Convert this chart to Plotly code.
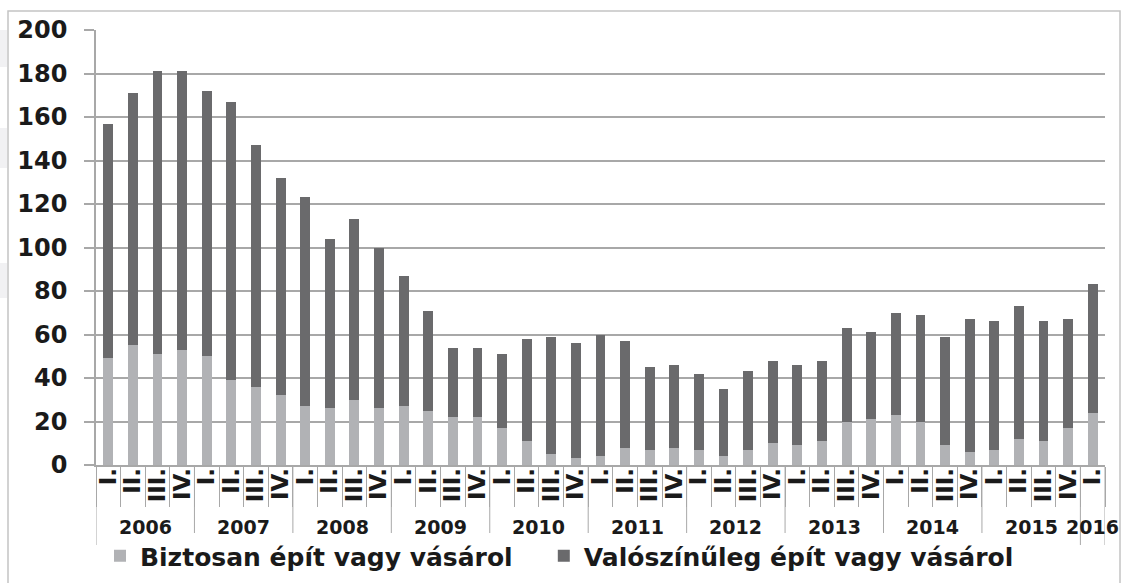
import plotly.graph_objects as go

years = ["2006"] * 4 + ["2007"] * 4 + ["2008"] * 4 + ["2009"] * 4 + ["2010"] * 4 + \
        ["2011"] * 4 + ["2012"] * 4 + ["2013"] * 4 + ["2014"] * 4 + ["2015"] * 4 + ["2016"]
quarters = ["I.", "II.", "III.", "IV."] * 10 + ["I."]

biztosan = [49, 55, 51, 53, 50, 39, 36, 32, 27, 26, 30, 26, 27, 25, 22, 22,
            17, 11, 5, 3, 4, 8, 7, 8, 7, 4, 7, 10, 9, 11, 20, 21,
            23, 20, 9, 6, 7, 12, 11, 17, 24]
valoszinuleg = [108, 116, 130, 128, 122, 128, 111, 100, 96, 78, 83, 74, 60, 46, 32, 32,
                34, 47, 54, 53, 56, 49, 38, 38, 35, 31, 36, 38, 37, 37, 43, 40,
                47, 49, 50, 61, 59, 61, 55, 50, 59]

series_names = ["Biztosan épít vagy vásárol", "Valószínűleg épít vagy vásárol"]
y_ticks = list(range(0, 201, 20))

FONT = "DejaVu Sans"
LIGHT = "#b1b2b5"
DARK = "#6a6a6c"
GRID = "#a8a8a8"
TXT = "#1a1a1a"

keys = [f"{y} {q}" for y, q in zip(years, quarters)]

fig = go.Figure()
fig.add_trace(go.Bar(x=keys, y=biztosan, name=series_names[0] + "\u00a0\u00a0\u00a0",
                     marker=dict(color=LIGHT, line=dict(width=0))))
fig.add_trace(go.Bar(x=keys, y=valoszinuleg, name=series_names[1],
                     marker=dict(color=DARK, line=dict(width=0))))

W, H = 1121, 583
L, R, T, B = 96, 16, 30, 118
pw, ph = W - L - R, H - T - B

def px_x(p):
    return (p - L) / pw

def px_y(p):
    return (H - B - p) / ph

shapes = [
    dict(type="rect", xref="paper", yref="paper",
         x0=px_x(8), x1=px_x(1120), y0=px_y(600), y1=px_y(11),
         line=dict(color="#c4c4c4", width=1.5), fillcolor="rgba(0,0,0,0)", layer="below"),
]
for y0, y1 in [(30, 67), (128, 168), (263, 298)]:
    shapes.append(dict(type="rect", xref="paper", yref="paper",
                       x0=px_x(0), x1=px_x(7), y0=px_y(y1), y1=px_y(y0),
                       line=dict(width=0), fillcolor="#f1f1f3", layer="below"))

# year groups: dividers and labels derived from the category list
annotations = []
unique_years = list(dict.fromkeys(years))
for yr in unique_years:
    idx = [i for i, y in enumerate(years) if y == yr]
    first, last = idx[0], idx[-1]
    shapes.append(dict(type="line", xref="x", yref="paper",
                       x0=first - 0.5, x1=first - 0.5, y0=0, y1=px_y(545),
                       line=dict(color=GRID, width=1)))
    annotations.append(dict(xref="x", yref="paper", x=(first + last) / 2, y=px_y(527),
                            text=yr, showarrow=False, yanchor="middle", xanchor="center",
                            font=dict(family=FONT, size=19, color=TXT, weight="bold")))
shapes.append(dict(type="line", xref="x", yref="paper",
                   x0=len(years) - 0.5, x1=len(years) - 0.5, y0=0, y1=px_y(545),
                   line=dict(color=GRID, width=1)))

fig.update_layout(
    width=W, height=H,
    margin=dict(l=L, r=R, t=T, b=B, autoexpand=False),
    barmode="stack",
    bargap=0.6,
    plot_bgcolor="white",
    paper_bgcolor="white",
    font=dict(family=FONT, color=TXT),
    shapes=shapes,
    annotations=annotations,
    legend=dict(orientation="h", x=px_x(100), xanchor="left", y=px_y(556), yanchor="middle",
                font=dict(family=FONT, size=25, color=TXT, weight="bold"),
                traceorder="normal", itemsizing="constant"),
    xaxis=dict(
        type="category", automargin=False,
        range=[-0.5, len(keys) - 0.5],
        tickvals=keys, ticktext=quarters,
        showline=True, linecolor=GRID, linewidth=1.5,
        ticks="outside", tickson="boundaries", ticklen=40, tickcolor=GRID, tickwidth=1,
        tickangle=-90,
        ticklabelstandoff=-8,
        tickfont=dict(family=FONT, size=23, color=TXT, weight="bold"),
    ),
    yaxis=dict(
        range=[0, 200], tickvals=y_ticks, automargin=False,
        showgrid=True, gridcolor=GRID, gridwidth=1.5,
        showline=True, linecolor=GRID, linewidth=1.5,
        ticks="outside", ticklen=10, tickcolor=GRID, tickwidth=1.5,
        ticklabelstandoff=12,
        tickfont=dict(family=FONT, size=24, color=TXT, weight="bold"),
        zeroline=False,
    ),
)

fig.write_html("out.html", config={"displayModeBar": False},
               post_script="document.body.style.margin='0';document.body.style.padding='0';")
